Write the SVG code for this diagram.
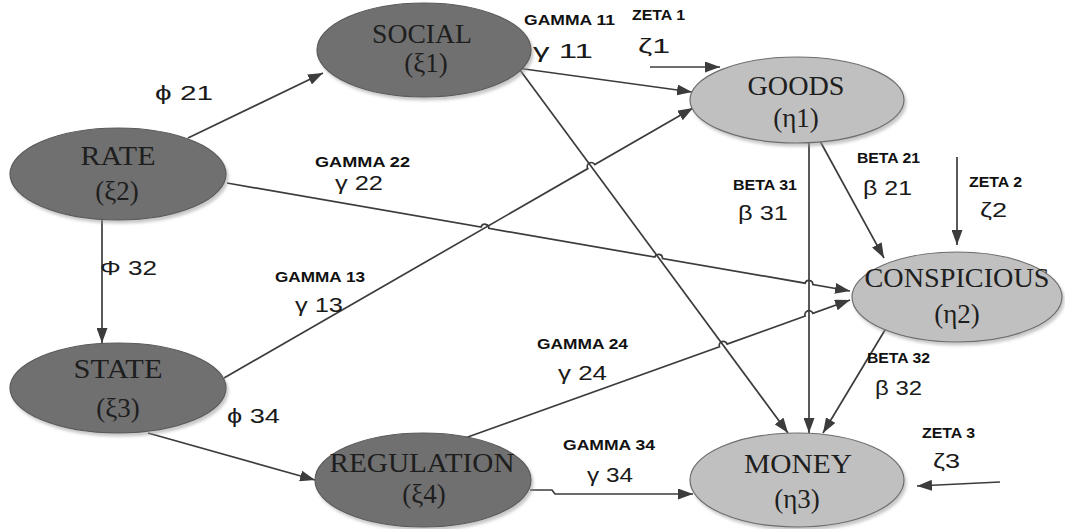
<svg xmlns="http://www.w3.org/2000/svg" width="1065" height="529" viewBox="0 0 1065 529">
<style>
.bg{fill:#ffffff}
.dark{fill:#707070;stroke:#5a5a5a;stroke-width:1.2}
.light{fill:#c0c0c0;stroke:#6e6e6e;stroke-width:1.2}
.nt{font-family:"Liberation Serif","Times New Roman",serif;font-size:27px;fill:#1e1e1e;text-anchor:middle}
.conn{fill:none;stroke:#3c3c3c;stroke-width:1.7}
.lb{font-family:"Liberation Sans",Arial,sans-serif;font-size:14px;font-weight:bold;fill:#111111}
.gk{font-family:"Liberation Sans","DejaVu Sans",Arial,sans-serif;font-size:20px;fill:#1a1a1a}
</style>
<defs>
<marker id="arr" markerUnits="userSpaceOnUse" markerWidth="15" markerHeight="11" refX="15" refY="5.5" orient="auto">
<path d="M0,0 L15,5.5 L0,11 Z" fill="#3c3c3c"/>
</marker>
<filter id="sh" x="-10%" y="-10%" width="125%" height="130%">
<feDropShadow dx="2" dy="3" stdDeviation="1.5" flood-color="#9a9a9a" flood-opacity="0.55"/>
</filter>
</defs>
<rect class="bg" x="0" y="0" width="1065" height="529"/>

<g id="connectors">
<path class="conn" marker-end="url(#arr)" d="M188,138 L323,73"/>
<path class="conn" marker-end="url(#arr)" d="M102,220 L102,343"/>
<path class="conn" marker-end="url(#arr)" d="M148,433 L315,480"/>
<path class="conn" marker-end="url(#arr)" d="M517,68 L692,92"/>
<path class="conn" marker-end="url(#arr)" d="M650,67 L720,67"/>
<path class="conn" marker-end="url(#arr)" d="M520,70 L788,433"/>
<path class="conn" marker-end="url(#arr)" d="M224,378 L587.8,168.6 A4,4 0 0 1 594.8,164.6 L693,108"/>
<path class="conn" marker-end="url(#arr)" d="M227,183 L481.1,227 A4,4 0 0 1 488.9,228.4 L654.8,257.1 A4,4 0 0 1 662.6,258.5 L805.1,283.2 A4,4 0 0 1 812.9,284.6 L850,291"/>
<path class="conn" marker-end="url(#arr)" d="M465,438 L719.5,346.8 A4,4 0 0 1 727.1,344.1 L805.2,316 A4,4 0 0 1 812.8,313.3 L850,300"/>
<path class="conn" marker-end="url(#arr)" d="M809,143 L809,433"/>
<path class="conn" marker-end="url(#arr)" d="M820,141 L884,258"/>
<path class="conn" marker-end="url(#arr)" d="M957,157 L957,245"/>
<path class="conn" marker-end="url(#arr)" d="M891,320 L823,433"/>
<path class="conn" marker-end="url(#arr)" d="M1000,482 L917,486"/>
<path class="conn" marker-end="url(#arr)" d="M530,490 L552,490 L555,494 L693,494"/>
</g>

<g id="node-social">
<ellipse class="dark" filter="url(#sh)" cx="424" cy="50" rx="107" ry="47"/>
<text class="nt" x="422" y="43" textLength="100" lengthAdjust="spacingAndGlyphs">SOCIAL</text>
<text class="nt" x="426" y="72">(ξ1)</text>
</g>
<g id="node-rate">
<ellipse class="dark" filter="url(#sh)" cx="118" cy="174" rx="108" ry="46"/>
<text class="nt" x="118" y="165" textLength="75" lengthAdjust="spacingAndGlyphs">RATE</text>
<text class="nt" x="117" y="200">(ξ2)</text>
</g>
<g id="node-state">
<ellipse class="dark" filter="url(#sh)" cx="118" cy="388" rx="108" ry="45"/>
<text class="nt" x="118" y="378" textLength="89" lengthAdjust="spacingAndGlyphs">STATE</text>
<text class="nt" x="118" y="417">(ξ3)</text>
</g>
<g id="node-regulation">
<ellipse class="dark" filter="url(#sh)" cx="423" cy="480" rx="108" ry="47"/>
<text class="nt" x="422" y="472" textLength="185" lengthAdjust="spacingAndGlyphs">REGULATION</text>
<text class="nt" x="424" y="503">(ξ4)</text>
</g>
<g id="node-goods">
<ellipse class="light" filter="url(#sh)" cx="797" cy="100" rx="107" ry="43"/>
<text class="nt" x="796" y="95" textLength="97" lengthAdjust="spacingAndGlyphs">GOODS</text>
<text class="nt" x="796" y="127">(η1)</text>
</g>
<g id="node-conspicious">
<ellipse class="light" filter="url(#sh)" cx="957" cy="297" rx="105" ry="45"/>
<text class="nt" x="957" y="287" textLength="185" lengthAdjust="spacingAndGlyphs">CONSPICIOUS</text>
<text class="nt" x="957" y="323">(η2)</text>
</g>
<g id="node-money">
<ellipse class="light" filter="url(#sh)" cx="797" cy="480" rx="107" ry="47"/>
<text class="nt" x="798" y="473" textLength="108" lengthAdjust="spacingAndGlyphs">MONEY</text>
<text class="nt" x="797" y="508">(η3)</text>
</g>

<g id="labels">
<text class="gk" x="155" y="100" textLength="58" lengthAdjust="spacingAndGlyphs">ϕ  21</text>
<text class="lb" x="524" y="25" textLength="91" lengthAdjust="spacingAndGlyphs">GAMMA 11</text>
<text class="gk" x="533" y="58" textLength="60" lengthAdjust="spacingAndGlyphs">γ  11</text>
<text class="lb" x="632" y="20" textLength="53" lengthAdjust="spacingAndGlyphs">ZETA 1</text>
<text class="gk" x="638" y="53" textLength="32" lengthAdjust="spacingAndGlyphs">ζ1</text>
<text class="lb" x="315" y="167" textLength="95" lengthAdjust="spacingAndGlyphs">GAMMA 22</text>
<text class="gk" x="335" y="190" textLength="48" lengthAdjust="spacingAndGlyphs">γ 22</text>
<text class="gk" x="100" y="275" textLength="57" lengthAdjust="spacingAndGlyphs">Φ 32</text>
<text class="lb" x="275" y="282" textLength="90" lengthAdjust="spacingAndGlyphs">GAMMA 13</text>
<text class="gk" x="295" y="312" textLength="48" lengthAdjust="spacingAndGlyphs">γ 13</text>
<text class="gk" x="227" y="423" textLength="53" lengthAdjust="spacingAndGlyphs">ϕ 34</text>
<text class="lb" x="537" y="349" textLength="91" lengthAdjust="spacingAndGlyphs">GAMMA 24</text>
<text class="gk" x="558" y="380" textLength="49" lengthAdjust="spacingAndGlyphs">γ 24</text>
<text class="lb" x="563" y="450" textLength="92" lengthAdjust="spacingAndGlyphs">GAMMA 34</text>
<text class="gk" x="587" y="482" textLength="46" lengthAdjust="spacingAndGlyphs">γ 34</text>
<text class="lb" x="733" y="190" textLength="64" lengthAdjust="spacingAndGlyphs">BETA 31</text>
<text class="gk" x="738" y="220" textLength="50" lengthAdjust="spacingAndGlyphs">β 31</text>
<text class="lb" x="857" y="163" textLength="63" lengthAdjust="spacingAndGlyphs">BETA 21</text>
<text class="gk" x="863" y="195" textLength="49" lengthAdjust="spacingAndGlyphs">β 21</text>
<text class="lb" x="969" y="187" textLength="53" lengthAdjust="spacingAndGlyphs">ZETA 2</text>
<text class="gk" x="980" y="217" textLength="27" lengthAdjust="spacingAndGlyphs">ζ2</text>
<text class="lb" x="867" y="363" textLength="63" lengthAdjust="spacingAndGlyphs">BETA 32</text>
<text class="gk" x="875" y="395" textLength="47" lengthAdjust="spacingAndGlyphs">β 32</text>
<text class="lb" x="922" y="438" textLength="53" lengthAdjust="spacingAndGlyphs">ZETA 3</text>
<text class="gk" x="933" y="468" textLength="27" lengthAdjust="spacingAndGlyphs">ζ3</text>
</g>
</svg>
